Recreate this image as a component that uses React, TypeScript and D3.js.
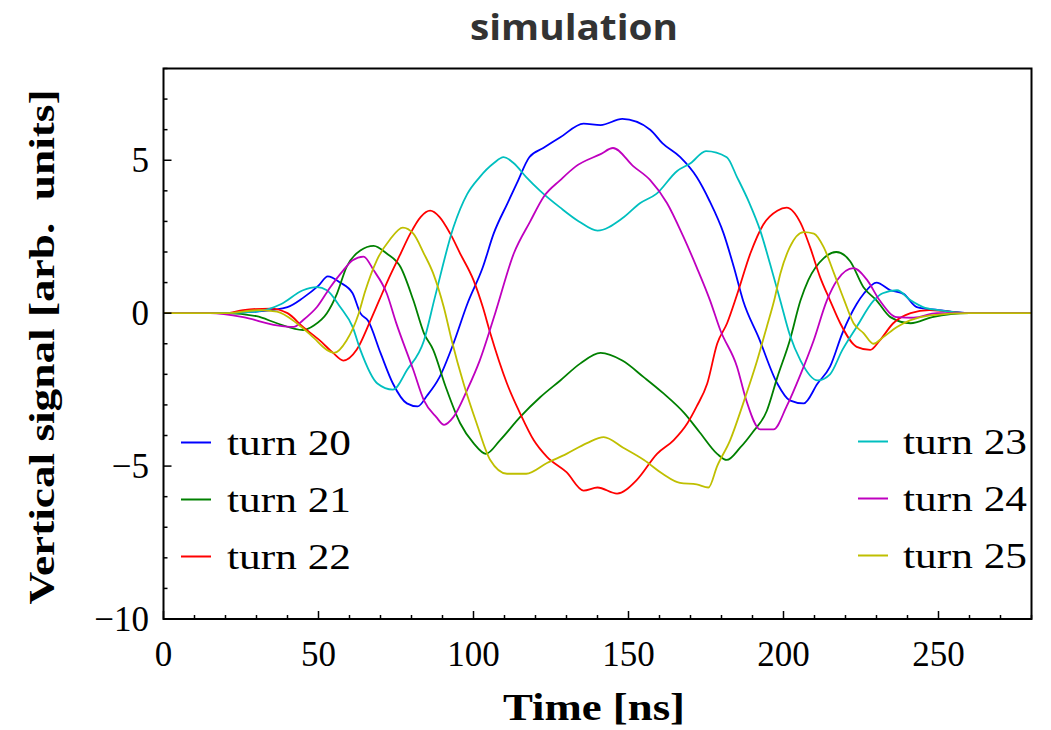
import React from 'react';
import * as d3 from 'd3';

const seriesNames = ['turn 20', 'turn 21', 'turn 22', 'turn 23', 'turn 24', 'turn 25'];
const seriesColors = ['#0000ff', '#008000', '#ff0000', '#00bfbf', '#bf00bf', '#bfbf00'];

const t20 = [0, 20, 30, 40, 45, 50, 53, 57, 61, 63.5, 66, 70, 74, 78.5, 82, 85, 89, 93.5, 98, 103, 106.5, 111, 114, 118, 122.5, 128, 135.5, 141, 148, 157, 161, 166.7, 172, 176, 180.7, 184, 187, 192, 198, 202, 206.5, 211, 215, 219, 223.6, 226, 230, 234.5, 238.7, 243, 250, 260, 280];
const v20 = [0, 0, 0.05, 0.2, 0.5, 0.9, 1.2, 1.0, 0.65, 0, -0.25, -1.3, -2.3, -2.95, -3.05, -2.7, -2.1, -1.0, 0.3, 1.5, 2.6, 3.6, 4.25, 5.1, 5.4, 5.75, 6.2, 6.15, 6.35, 6.0, 5.55, 5.1, 4.45, 3.7, 2.6, 1.5, 0.4, -0.8, -2.3, -2.85, -2.95, -2.3, -1.75, -0.65, 0.3, 0.65, 1.0, 0.75, 0.63, 0.2, 0.1, 0, 0];

const t21 = [0, 20, 30, 36.6, 45, 48.5, 52.7, 56, 59, 63.5, 67.8, 72, 76.5, 80.6, 84, 87, 91, 95.7, 100, 104, 108.6, 115, 121.5, 128, 134.4, 141, 148, 155, 161, 168, 173, 178.6, 181.7, 186, 190, 194.6, 198, 202, 205.5, 208, 213, 217, 221.5, 225.8, 230, 234.5, 241, 248, 260, 280];
const v21 = [0, 0, -0.1, -0.33, -0.55, -0.4, 0, 0.65, 1.5, 2.05, 2.2, 1.95, 1.5, 0.42, -0.65, -1.2, -2.4, -3.6, -4.25, -4.6, -4.15, -3.4, -2.75, -2.2, -1.65, -1.3, -1.55, -2.1, -2.6, -3.27, -3.9, -4.6, -4.8, -4.4, -3.9, -3.2, -2.1, -0.9, 0.42, 1.08, 1.8, 2.0, 1.7, 0.85, 0.42, -0.13, -0.33, -0.13, 0, 0];

const t22 = [0, 20, 25.7, 34.5, 40, 45, 50.5, 54.7, 58, 62.3, 66.5, 69.5, 72.5, 76.5, 79.6, 83, 86, 89, 92.5, 95.7, 100, 103, 105.4, 110.8, 115, 119.4, 123.7, 130, 135.5, 140, 146.3, 152.7, 159.2, 164.6, 169, 172, 175.4, 178.6, 181.8, 185, 189.3, 193.5, 198, 201, 205.5, 208.6, 211.8, 215, 218.3, 223.6, 228, 231, 235.4, 241, 247, 260, 280];
const v22 = [0, 0, 0.1, 0.15, 0, -0.45, -0.9, -1.3, -1.55, -1.2, -0.3, 0.4, 1.1, 1.95, 2.6, 3.15, 3.35, 3.15, 2.6, 1.95, 1.08, 0.2, -0.65, -2.3, -3.27, -4.15, -4.7, -5.2, -5.8, -5.7, -5.9, -5.45, -4.6, -4.15, -3.6, -3.05, -2.3, -1.0, -0.33, 0.6, 1.95, 2.9, 3.35, 3.45, 2.95, 2.15, 1.18, 0.42, -0.33, -1.1, -1.2, -0.9, -0.33, 0, 0.1, 0, 0];

const t23 = [0, 20, 30, 38, 45, 49.5, 52.7, 57, 61, 63.5, 69, 74, 78.6, 84, 87.5, 93.5, 98, 102, 106.5, 109.7, 113, 117, 121.5, 128, 134, 140, 148, 153.8, 159, 165.7, 170, 175, 181.7, 185, 189, 192.5, 195.7, 199, 202, 205.5, 211, 215, 219, 223.6, 229, 232, 236.6, 241, 245, 250, 260, 280];
const v23 = [0, 0, 0.05, 0.3, 0.75, 0.85, 0.75, 0.2, -0.45, -1.2, -2.3, -2.5, -1.85, -0.9, 0.5, 2.8, 3.9, 4.45, 4.9, 5.1, 4.9, 4.45, 4.0, 3.45, 3.0, 2.7, 3.1, 3.6, 3.9, 4.65, 4.9, 5.3, 5.1, 4.45, 3.6, 2.7, 1.6, 0.4, -0.7, -1.55, -2.2, -2.0, -1.2, -0.45, 0.4, 0.65, 0.75, 0.42, 0.2, 0.1, 0, 0];

const t24 = [0, 15, 25.7, 36.6, 42, 45, 49.5, 53.8, 58, 61, 64.5, 67.8, 72, 75, 80.6, 84, 88, 90.5, 93.5, 98, 102, 107, 113, 118.3, 122.6, 128, 133, 141, 145, 151.6, 157, 162.4, 167.7, 172, 176.3, 179.6, 185, 188, 192.5, 196.8, 201, 205.5, 209.7, 214, 217.3, 222.6, 227, 231, 236.6, 242, 249.5, 260, 280];
const v24 = [0, 0, -0.13, -0.4, -0.45, -0.23, 0.2, 0.85, 1.4, 1.73, 1.85, 1.4, 0.65, -0.3, -1.86, -2.85, -3.4, -3.65, -3.4, -2.5, -1.55, 0, 1.95, 3.0, 3.8, 4.35, 4.8, 5.2, 5.4, 4.8, 4.35, 3.6, 2.5, 1.5, 0.42, -0.55, -1.75, -2.85, -3.8, -3.8, -3.05, -2.0, -0.9, 0.42, 1.08, 1.47, 1.08, 0.42, -0.13, -0.15, 0, 0, 0];

const t25 = [0, 20, 31, 36.6, 43, 48.4, 52.7, 55, 59, 63, 65, 68.8, 73, 77.2, 80.6, 84, 87, 90.4, 93, 96.8, 101, 105.4, 110.8, 117, 123.7, 130, 136.6, 142, 148.3, 155, 161, 166.6, 172, 175.8, 178.6, 182.8, 187, 191.5, 194.6, 197, 199, 202, 206.5, 209.8, 213, 216.3, 219.6, 222.6, 225.8, 229, 232, 236.6, 241, 247.3, 260, 280];
const v25 = [0, 0, 0.1, 0.05, -0.33, -0.8, -1.2, -1.3, -0.9, 0, 0.7, 1.73, 2.4, 2.8, 2.6, 1.95, 1.3, 0.2, -0.9, -2.3, -3.6, -4.8, -5.25, -5.25, -4.9, -4.6, -4.25, -4.05, -4.4, -4.8, -5.25, -5.55, -5.6, -5.7, -5.0, -4.15, -2.95, -1.55, -0.45, 0.42, 1.3, 2.15, 2.65, 2.6, 2.15, 1.3, 0.42, -0.33, -0.65, -1.0, -0.8, -0.45, -0.23, -0.07, 0, 0];

const seriesTimes = [t20, t21, t22, t23, t24, t25];
const seriesValues = [v20, v21, v22, v23, v24, v25];

const xMajorTicks = [0, 50, 100, 150, 200, 250];
const xTickLabels = ['0', '50', '100', '150', '200', '250'];
const yMajorTicks = [-10, -5, 0, 5];
const yTickLabels = ['\u221210', '\u22125', '0', '5'];

const titleText = 'simulation';
const xTitle = 'Time [ns]';
const yTitle = 'Vertical signal [arb.\u00a0 units]';

export default function App() {
  const W = 1051;
  const H = 730;
  const left = 163.5, right = 1031.5, top = 68.5, bottom = 619;
  const x = d3.scaleLinear().domain([0, 280]).range([left, right]);
  const y = d3.scaleLinear().domain([-10, 8]).range([bottom, top]);

  const line = d3
    .line<[number, number]>()
    .x((d) => x(d[0]))
    .y((d) => y(d[1]))
    .curve(d3.curveMonotoneX);

  const xMinor = d3.range(0, 281, 10).filter((v) => v % 50 !== 0);
  const yMinor = d3.range(-10, 9, 1).filter((v) => v % 5 !== 0);

  const serif = '"Liberation Serif", "Times New Roman", serif';

  const legendLeft = [0, 1, 2];
  const legendRight = [3, 4, 5];
  const legendRowY = [442.5, 499.5, 556.5];

  return (
    <svg width={W} height={H} style={{ position: 'absolute', left: 0, top: 0, background: '#fff' }}>
      <rect x={0} y={0} width={W} height={H} fill="#fff" />
      <text
        x={574}
        y={40}
        textAnchor="middle"
        fontFamily='"Open Sans", "Noto Sans", sans-serif'
        fontWeight={700}
        fontSize={35}
        fill="#333333"
        textLength={208}
        lengthAdjust="spacingAndGlyphs"
      >
        {titleText}
      </text>

      <defs>
        <clipPath id="plotclip">
          <rect x={left} y={top} width={right - left} height={bottom - top} />
        </clipPath>
      </defs>

      <g clipPath="url(#plotclip)">
        {seriesTimes.map((ts, i) => {
          const pts: [number, number][] = ts.map((t, j) => [t, seriesValues[i][j]]);
          return (
            <path key={i} d={line(pts) || ''} fill="none" stroke={seriesColors[i]} strokeWidth={1.8} strokeLinejoin="round" />
          );
        })}
      </g>

      {xMajorTicks.map((v) => (
        <line key={'xM' + v} x1={x(v)} x2={x(v)} y1={bottom} y2={bottom - 8} stroke="#000" strokeWidth={1.5} />
      ))}
      {xMinor.map((v) => (
        <line key={'xm' + v} x1={x(v)} x2={x(v)} y1={bottom} y2={bottom - 4} stroke="#000" strokeWidth={1.5} />
      ))}
      {yMajorTicks.map((v) => (
        <line key={'yM' + v} x1={left} x2={left + 8} y1={y(v)} y2={y(v)} stroke="#000" strokeWidth={1.5} />
      ))}
      {yMinor.map((v) => (
        <line key={'ym' + v} x1={left} x2={left + 4} y1={y(v)} y2={y(v)} stroke="#000" strokeWidth={1.5} />
      ))}

      <rect x={left} y={top} width={right - left} height={bottom - top} fill="none" stroke="#000" strokeWidth={2} />

      {xMajorTicks.map((v, i) => (
        <text key={'xl' + v} x={x(v)} y={666} textAnchor="middle" fontFamily={serif} fontSize={35} fill="#000">
          {xTickLabels[i]}
        </text>
      ))}
      {yMajorTicks.map((v, i) => (
        <text key={'yl' + v} x={149} y={y(v) + 12} textAnchor="end" fontFamily={serif} fontSize={35} fill="#000">
          {yTickLabels[i]}
        </text>
      ))}

      <text x={594} y={720} textAnchor="middle" fontFamily={serif} fontWeight={700} fontSize={38} fill="#000" textLength={182} lengthAdjust="spacingAndGlyphs">
        {xTitle}
      </text>
      <text
        transform={`translate(54, 347) rotate(-90)`}
        textAnchor="middle"
        fontFamily={serif}
        fontWeight={700}
        fontSize={36}
        fill="#000"
        textLength={515}
        lengthAdjust="spacingAndGlyphs"
      >
        {yTitle}
      </text>

      {legendLeft.map((si, r) => (
        <g key={'lgL' + si}>
          <line x1={181} x2={211} y1={legendRowY[r]} y2={legendRowY[r]} stroke={seriesColors[si]} strokeWidth={2} />
          <text x={227} y={legendRowY[r] + 12} fontFamily={serif} fontSize={36} fill="#000" textLength={124} lengthAdjust="spacingAndGlyphs">
            {seriesNames[si]}
          </text>
        </g>
      ))}
      {legendRight.map((si, r) => (
        <g key={'lgR' + si}>
          <line x1={858} x2={888} y1={legendRowY[r] - 1} y2={legendRowY[r] - 1} stroke={seriesColors[si]} strokeWidth={2} />
          <text x={903} y={legendRowY[r] + 11} fontFamily={serif} fontSize={36} fill="#000" textLength={124} lengthAdjust="spacingAndGlyphs">
            {seriesNames[si]}
          </text>
        </g>
      ))}
    </svg>
  );
}
